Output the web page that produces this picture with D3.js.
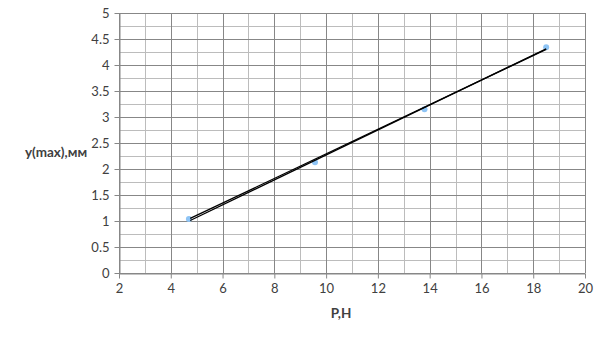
<!DOCTYPE html>
<html>
<head>
<meta charset="utf-8">
<script src="https://cdn.jsdelivr.net/npm/d3@7"></script>
<style>
  body { margin: 0; background: #fff; }
  text { font-family: Lato, "Open Sans", sans-serif; }
</style>
</head>
<body>
<svg id="chart" width="605" height="340"></svg>
<script>
// measured points
const forceP = [4.7, 9.57, 13.8, 18.5];
const yMax = [1.04, 2.13, 3.15, 4.34];
// two fitted lines, endpoints
const fitX = [4.75, 18.5];
const fitA = [1.01, 4.31];
const fitB = [1.05, 4.30];
const xTicks = [2, 4, 6, 8, 10, 12, 14, 16, 18, 20];
const yTicks = [0, 0.5, 1, 1.5, 2, 2.5, 3, 3.5, 4, 4.5, 5];

const svg = d3.select("#chart");
const margin = { top: 13, right: 20, bottom: 67, left: 119 };
const W = 605 - margin.left - margin.right;
const H = 340 - margin.top - margin.bottom;
const g = svg.append("g").attr("transform", `translate(${margin.left},${margin.top})`);

const x = d3.scaleLinear().domain([2, 20]).range([0, W]);
const y = d3.scaleLinear().domain([0, 5]).range([H, 0]);

// minor grid
g.append("g").selectAll("line").data(d3.range(3, 20, 2)).join("line")
  .attr("x1", d => Math.round(x(d)) + 0.5).attr("x2", d => Math.round(x(d)) + 0.5)
  .attr("y1", 0).attr("y2", H).attr("stroke", "#bcbcbc");
g.append("g").selectAll("line").data(d3.range(0.25, 5, 0.5)).join("line")
  .attr("y1", d => Math.round(y(d)) + 0.5).attr("y2", d => Math.round(y(d)) + 0.5)
  .attr("x1", 0).attr("x2", W).attr("stroke", "#bcbcbc");

// major grid
g.append("g").selectAll("line").data(xTicks).join("line")
  .attr("x1", d => Math.round(x(d)) + 0.5).attr("x2", d => Math.round(x(d)) + 0.5)
  .attr("y1", 0).attr("y2", H).attr("stroke", "#878787");
g.append("g").selectAll("line").data(yTicks).join("line")
  .attr("y1", d => Math.round(y(d)) + 0.5).attr("y2", d => Math.round(y(d)) + 0.5)
  .attr("x1", 0).attr("x2", W).attr("stroke", "#878787");

// axes
const xAxis = g.append("g").attr("transform", `translate(0,${Math.round(H) + 0.5})`)
  .call(d3.axisBottom(x).tickValues(xTicks).tickSize(5).tickSizeOuter(0).tickPadding(5));
const yAxis = g.append("g").attr("transform", "translate(0.5,0)")
  .call(d3.axisLeft(y).tickValues(yTicks).tickSize(5).tickSizeOuter(0).tickPadding(5)
    .tickFormat(d3.format("")));
[xAxis, yAxis].forEach(a => {
  a.select(".domain").attr("stroke", "#878787");
  a.selectAll(".tick line").attr("stroke", "#878787");
  a.selectAll(".tick text").attr("fill", "#404040").attr("font-size", 13)
    .style("font-family", "Lato, 'Open Sans', sans-serif");
});

// fitted lines
const line = d3.line().x(d => x(d[0])).y(d => y(d[1]));
// points
g.append("g").selectAll("circle").data(forceP.map((v, i) => [v, yMax[i]])).join("circle")
  .attr("cx", d => x(d[0])).attr("cy", d => y(d[1])).attr("r", 3)
  .attr("fill", "#8ec4f5");
[fitA, fitB].forEach(f => {
  g.append("path").datum(fitX.map((v, i) => [v, f[i]]))
    .attr("d", line).attr("fill", "none").attr("stroke", "#000").attr("stroke-width", 1.3);
});

// axis titles
svg.append("text").attr("x", 56).attr("y", 157).attr("text-anchor", "middle")
  .attr("font-size", 13.5).attr("font-weight", "bold").attr("fill", "#404040").text("y(max),мм");
svg.append("text").attr("x", 341).attr("y", 318).attr("text-anchor", "middle")
  .attr("font-size", 13.5).attr("font-weight", "bold").attr("fill", "#404040").text("P,H");
</script>
</body>
</html>
